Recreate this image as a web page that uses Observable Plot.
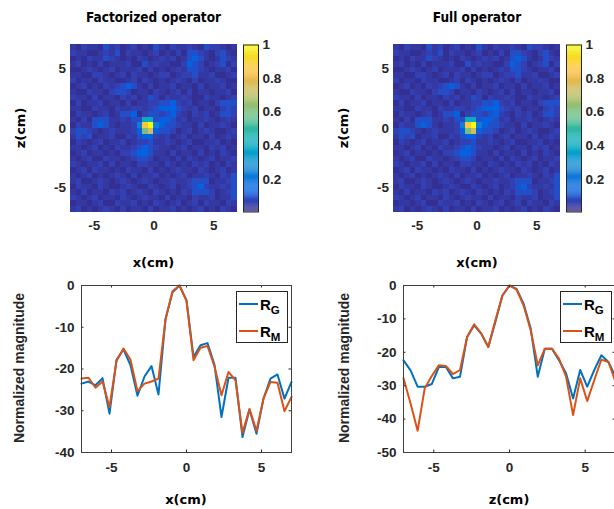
<!DOCTYPE html>
<html>
<head>
<meta charset="utf-8">
<script src="https://cdn.jsdelivr.net/npm/d3@7"></script>
<script src="https://cdn.jsdelivr.net/npm/@observablehq/plot@0.6"></script>
<style>
  html, body { margin: 0; padding: 0; background: #fff; overflow: hidden; }
  #fig { position: relative; width: 614px; height: 509px; overflow: hidden; background: #fff; }
  #fig svg { position: absolute; }
  .lbl { position: absolute; white-space: nowrap; line-height: 1; color: #262626; }
  .title { font-family: "DejaVu Sans Condensed", "DejaVu Sans", sans-serif; font-stretch: condensed; font-weight: bold; font-size: 13.5px; color: #000; }
  .axl { font-family: "DejaVu Sans", sans-serif; font-weight: bold; font-size: 13px; color: #000; }
  .ayl { font-family: "Liberation Sans", Arial, sans-serif; font-weight: bold; font-size: 14px; color: #262626; }
  .legend { position: absolute; background: #fff; border: 1px solid #262626; box-sizing: border-box; }
  .legend .sw { position: absolute; height: 2px; width: 19px; left: 2px; }
  .legend .tx { position: absolute; left: 23px; font-family: "Liberation Sans", Arial, sans-serif; font-weight: bold; font-size: 15px; color: #000; line-height: 1; }
  .legend .tx sub { font-size: 11.5px; position: relative; top: 1px; vertical-align: -3px; }
</style>
</head>
<body>
<div id="fig"></div>
<script>
// ---------- Data ----------
// Heatmap cell centres (cm)
const heatX = [-6.767, -6.3, -5.833, -5.367, -4.9, -4.433, -3.967, -3.5, -3.033, -2.567,
               -2.1, -1.633, -1.167, -0.7, -0.233, 0.233, 0.7, 1.167, 1.633, 2.1,
               2.567, 3.033, 3.5, 3.967, 4.433, 4.9, 5.367, 5.833, 6.3, 6.767];
const heatZ = [6.767, 6.3, 5.833, 5.367, 4.9, 4.433, 3.967, 3.5, 3.033, 2.567,
               2.1, 1.633, 1.167, 0.7, 0.233, -0.233, -0.7, -1.167, -1.633, -2.1,
               -2.567, -3.033, -3.5, -3.967, -4.433, -4.9, -5.367, -5.833, -6.3, -6.767];
// Magnitude levels coded by a character (0..9, A)
const heatLevels = [0.02, 0.04, 0.06, 0.09, 0.13, 0.22, 0.40, 0.60, 0.76, 0.86, 1.0];
// Estimated normalized magnitude (level codes), top row = z = +7 cm
const factorizedRows = [
  "1021103120 1201031021 1210322101",
  "2110012130 2110120102 0332102310",
  "0102113210 1021012120 1343101321",
  "1201020111 2003121100 2432012302",
  "0012101201 1120201012 1332101120",
  "1100221012 0211012201 2231120012",
  "2011021100 1202101012 1020112100",
  "0120102123 4310201120 1102011201",
  "1002110233 2011021012 0201101120",
  "2110201102 1201320211 2100211012",
  "0201120110 2011223342 1201102333",
  "1100211021 1221234443 2120110232",
  "0211012013 3402332342 1021201332",
  "1020333112 1336634431 2011210121",
  "0211343101 1259A54332 1102011210",
  "2332101211 1247843320 1201210012",
  "1323011200 2134421201 2011020121",
  "0210120112 0122311210 1200112010",
  "1101201021 1234321101 2011021201",
  "0120110102 2344311020 1102010210",
  "1012002110 1233201102 0210120112",
  "2101120201 1022110210 1021201021",
  "0120211010 2110201012 1102101201",
  "1012010121 0201120101 2011210213",
  "1200121012 1012101121 1233301123",
  "0211021001 2100210120 1234211213",
  "1020110212 0121021010 2133320123",
  "2101201102 1012110201 1021120113",
  "0110120021 1201021012 0120211021",
  "1201012102 0110201120 1012010210"
];
// The full-operator image is visually identical to the factorized one
const fullRows = factorizedRows;

// Profile sample positions (cm)
const positions = [-7, -6.533, -6.067, -5.6, -5.133, -4.667, -4.2, -3.733, -3.267, -2.8,
                   -2.333, -1.867, -1.4, -0.933, -0.467, 0, 0.467, 0.933, 1.4, 1.867,
                   2.333, 2.8, 3.267, 3.733, 4.2, 4.667, 5.133, 5.6, 6.067, 6.533, 7];
// Factorized operator profile along x
const factorizedRG = [-23.5, -23.0, -23.9, -22.2, -30.7, -17.8, -15.3, -19.1, -26.4, -21.8,
                      -19.3, -26.1, -8.0, -1.6, 0, -3.6, -17.1, -14.3, -13.8, -19.0,
                      -31.5, -22.1, -22.1, -36.3, -29.7, -35.5, -27.1, -22.3, -21.3, -27.1, -23.1];
const factorizedRM = [-22.3, -22.1, -24.5, -23.0, -29.1, -18.1, -15.1, -17.8, -25.3, -23.5,
                      -23.0, -22.3, -8.2, -1.4, 0, -3.6, -17.9, -14.9, -14.5, -19.4,
                      -26.3, -20.7, -22.7, -35.3, -29.6, -34.8, -27.1, -23.1, -23.3, -30.1, -26.7];
// Full operator profile along z
const fullRG = [-22.4, -25.4, -30.3, -30.3, -29.5, -24.4, -24.4, -27.8, -27.3, -15.4,
                -11.9, -14.4, -18.4, -10.9, -3.0, 0, -1.0, -5.5, -12.9, -27.3,
                -18.9, -18.9, -22.4, -26.3, -33.8, -25.3, -30.3, -25.3, -20.9, -22.9, -27.3];
const fullRM = [-27.8, -35.3, -43.5, -30.8, -27.1, -23.9, -24.1, -26.5, -25.3, -15.4,
                -11.6, -14.4, -18.4, -10.4, -3.0, 0, -1.2, -6.0, -13.4, -23.9,
                -18.9, -18.9, -21.9, -27.3, -38.8, -27.8, -34.6, -28.3, -22.2, -22.9, -28.8];

const xTicks = [-5, 0, 5];
const colorTicks = [0.2, 0.4, 0.6, 0.8, 1];
const leftYTicks = [0, -10, -20, -30, -40];
const rightYTicks = [0, -10, -20, -30, -40, -50];
const seriesNames = ["G", "M"];
const seriesColors = ["#0072BD", "#D95319"];

// Parula colormap (MATLAB), sampled entries of the 64-colour map
const parulaIdx = [0, 4, 8, 12, 16, 20, 24, 28, 32, 36, 40, 44, 48, 52, 56, 60, 63];
const parulaRGB = [
  [0.2081, 0.1663, 0.5292], [0.1959, 0.2645, 0.7279], [0.0117, 0.3875, 0.8820],
  [0.0498, 0.4586, 0.8641], [0.0793, 0.5200, 0.8312], [0.0343, 0.5966, 0.8199],
  [0.0228, 0.6535, 0.7768], [0.0843, 0.6928, 0.7062], [0.2178, 0.7250, 0.6193],
  [0.3953, 0.7459, 0.5244], [0.5709, 0.7485, 0.4494], [0.7184, 0.7411, 0.3905],
  [0.8507, 0.7299, 0.3360], [0.9739, 0.7314, 0.2666], [0.9880, 0.8066, 0.1794],
  [0.9589, 0.8949, 0.1132], [0.9763, 0.9831, 0.0538]
];
const colorMin = 0.005, colorMax = 1;

// ---------- Helpers ----------
const parulaScale = d3.scaleLinear()
  .domain(parulaIdx.map(i => i / 63))
  .range(parulaRGB.map(c => d3.rgb(c[0] * 255, c[1] * 255, c[2] * 255).formatHex()))
  .interpolate(d3.interpolateRgb)
  .clamp(true);
const parula = t => parulaScale(t);
const colorOpts = {type: "linear", domain: [colorMin, colorMax], interpolate: parula};

const fig = document.getElementById("fig");
const baseStyle = {
  background: "transparent",
  fontFamily: "'Liberation Sans', Arial, sans-serif",
  fontSize: "13.5px",
  fontWeight: "bold",
  color: "#262626",
  overflow: "visible"
};
function place(svg, left, top) {
  svg.style.left = left + "px";
  svg.style.top = top + "px";
  fig.appendChild(svg);
}
function label(text, cls, x, y, rotate) {
  const d = document.createElement("div");
  d.className = "lbl " + cls;
  d.textContent = text;
  d.style.left = x + "px";
  d.style.top = y + "px";
  d.style.transform = "translate(-50%,-50%)" + (rotate ? " rotate(-90deg)" : "");
  fig.appendChild(d);
}
const fmt = d => String(d);

function heatCells(rows) {
  const cells = [];
  rows.forEach((row, r) => {
    [...row.replace(/\s/g, "")].forEach((ch, c) => {
      cells.push({x: heatX[c], z: heatZ[r], v: heatLevels[parseInt(ch, 11)]});
    });
  });
  return cells;
}

function heatmap(rows, left) {
  const half = (heatX[1] - heatX[0]) / 2;
  const svg = Plot.plot({
    width: 240, height: 245,
    marginLeft: 70, marginRight: 3, marginTop: 44.5, marginBottom: 33.5,
    style: baseStyle,
    x: {domain: [-7, 7]},
    y: {domain: [-7, 7]},
    color: colorOpts,
    marks: [
      Plot.rect(heatCells(rows), {
        x1: d => d.x - half, x2: d => d.x + half,
        y1: d => d.z - half, y2: d => d.z + half,
        fill: "v", shapeRendering: "crispEdges"
      }),
      Plot.axisX({ticks: xTicks, tickSize: 0, tickPadding: 8.5, tickFormat: fmt, label: null}),
      Plot.axisY({ticks: xTicks, tickSize: 0, tickPadding: 4.5, tickFormat: fmt, label: null})
    ]
  });
  place(svg, left, 0);
}

function colorbar(left) {
  const n = 160;
  const step = (colorMax - colorMin) / n;
  const ramp = d3.range(n).map(i => colorMin + i * step);
  const svg = Plot.plot({
    width: 48, height: 245,
    marginLeft: 0, marginRight: 33, marginTop: 44.5, marginBottom: 33.5,
    style: baseStyle,
    x: {domain: [0, 1], axis: null},
    y: {domain: [colorMin, colorMax]},
    color: colorOpts,
    marks: [
      Plot.rect(ramp, {x1: 0, x2: 1, y1: d => d, y2: d => Math.min(colorMax, d + step * 1.05), fill: d => d + step / 2}),
      Plot.frame({stroke: "#262626", strokeWidth: 1}),
      Plot.axisY({anchor: "right", ticks: colorTicks, tickSize: 0, tickPadding: 4, tickFormat: fmt, label: null})
    ]
  });
  place(svg, left, 0);
}

function profile(rg, rm, yTicks, yMin, left, frameW) {
  const frameH = 167;
  const ky = 2.5 * (0 - yMin) / frameH;
  const kx = 2.5 * 14 / frameW;
  const gData = positions.map((x, i) => ({x, y: rg[i]}));
  const mData = positions.map((x, i) => ({x, y: rm[i]}));
  const svg = Plot.plot({
    width: 81 + frameW + (left === 0 ? 9 : 0), height: 244,
    marginLeft: 81, marginRight: left === 0 ? 9 : 0, marginTop: 20, marginBottom: 57,
    style: baseStyle,
    x: {domain: [-7, 7]},
    y: {domain: [yMin, 0]},
    marks: [
      Plot.line(gData, {x: "x", y: "y", stroke: seriesColors[0], strokeWidth: 2}),
      Plot.line(mData, {x: "x", y: "y", stroke: seriesColors[1], strokeWidth: 2}),
      Plot.ruleX(xTicks, {y1: yMin, y2: yMin + ky, stroke: "#262626"}),
      Plot.ruleX(xTicks, {y1: 0, y2: -ky, stroke: "#262626"}),
      Plot.ruleY(yTicks, {x1: -7, x2: -7 + kx, stroke: "#262626"}),
      Plot.ruleY(yTicks, {x1: 7, x2: 7 - kx, stroke: "#262626"}),
      Plot.frame({stroke: "#404040", strokeWidth: 1}),
      Plot.axisX({ticks: xTicks, tickSize: 0, tickPadding: 10, tickFormat: fmt, label: null}),
      Plot.axisY({ticks: yTicks, tickSize: 0, tickPadding: 7, tickFormat: fmt, label: null})
    ]
  });
  place(svg, left, 265);
}

function legend(left) {
  const box = document.createElement("div");
  box.className = "legend";
  box.style.left = left + "px";
  box.style.top = "291px";
  box.style.width = "52px";
  box.style.height = "52px";
  seriesNames.forEach((name, i) => {
    const sw = document.createElement("div");
    sw.className = "sw";
    sw.style.background = seriesColors[i];
    sw.style.top = (11 + i * 27) + "px";
    box.appendChild(sw);
    const tx = document.createElement("div");
    tx.className = "tx";
    tx.style.top = (5 + i * 27) + "px";
    tx.innerHTML = "R<sub>" + name + "</sub>";
    box.appendChild(tx);
  });
  fig.appendChild(box);
}

// ---------- Build ----------
heatmap(factorizedRows, 0);
colorbar(243);
heatmap(fullRows, 323);
colorbar(566);
profile(factorizedRG, factorizedRM, leftYTicks, -40, 0, 210);
profile(fullRG, fullRM, rightYTicks, -50, 322, 212);
legend(236);
legend(560);

label("Factorized operator", "title", 153.5, 18);
label("Full operator", "title", 477, 18);
label("z(cm)", "axl", 20, 128, true);
label("z(cm)", "axl", 343, 128, true);
label("x(cm)", "axl", 153.5, 262);
label("x(cm)", "axl", 477, 262);
label("Normalized magnitude", "ayl", 19, 368, true);
label("Normalized magnitude", "ayl", 344, 368, true);
label("x(cm)", "axl", 186, 499);
label("z(cm)", "axl", 509, 499);
</script>
</body>
</html>
